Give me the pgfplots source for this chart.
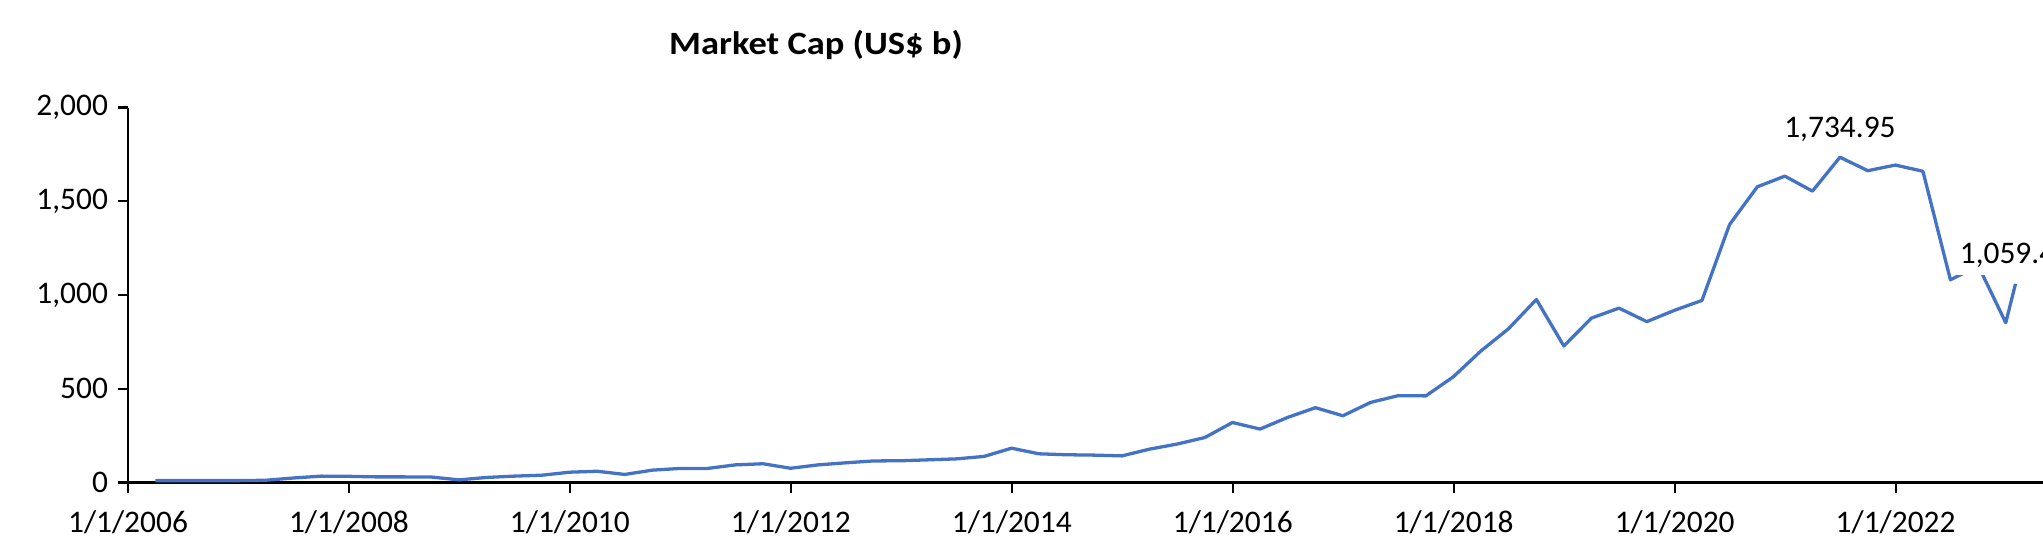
\documentclass[border=0pt]{standalone}
\usepackage{fontspec}
\setmainfont{Carlito}
\newfontfamily\titlefont[FakeStretch=1.12]{Carlito}
\usepackage{pgfplots}
\pgfplotsset{compat=1.18}
\definecolor{xlblue}{HTML}{4472C4}

\pgfplotstableread{
date value
2006.247 10
2006.496 10
2006.748 10
2006.997 10
2007.247 12
2007.496 24
2007.748 34
2007.997 33
2008.247 30
2008.496 30
2008.748 29
2008.997 14
2009.247 27
2009.496 34
2009.748 39
2009.997 55
2010.247 60
2010.496 43
2010.748 66
2010.997 75
2011.247 75
2011.496 94
2011.748 100
2011.997 76
2012.247 94
2012.496 105
2012.748 115
2012.997 116
2013.247 121
2013.496 126
2013.748 139
2013.997 183
2014.247 153
2014.496 148
2014.748 146
2014.997 142
2015.247 178
2015.496 205
2015.748 240
2015.997 320
2016.247 285
2016.496 347
2016.748 399
2016.997 356
2017.247 427
2017.496 463
2017.748 462
2017.997 564
2018.247 702
2018.496 820
2018.748 976
2018.997 728
2019.247 877
2019.496 930
2019.748 858
2019.997 918
2020.247 971
2020.496 1375
2020.748 1577
2020.997 1634
2021.247 1554
2021.496 1734.95
2021.748 1663
2021.997 1693
2022.247 1660
2022.496 1081
2022.748 1156
2022.997 852
2023.085 1059.4
}\mcdata

\begin{document}
\begin{tikzpicture}
\begin{axis}[
  at={(44.8pt,21.875pt)}, anchor=south west,
  scale only axis, width=670.25pt, height=131.25pt,
  xmin=2006, xmax=2023.334, ymin=0, ymax=2000,
  axis x line*=bottom, axis y line*=left,
  axis line style={black, line width=0.75pt, -},
  tick align=outside, major tick length=3.5pt,
  tick style={black, line width=0.75pt},
  xtick={2006,2008,2010,2012,2014,2016,2018,2020,2022},
  xticklabels={1/1/2006,1/1/2008,1/1/2010,1/1/2012,1/1/2014,1/1/2016,1/1/2018,1/1/2020,1/1/2022},
  ytick={0,500,1000,1500,2000},
  yticklabels={0,500,{1,000},{1,500},{2,000}},
  ticklabel style={font=\fontsize{11}{13}\selectfont},
  xticklabel style={yshift=-2.8pt},
  minor tick num=0,
  clip=false,
]
\addplot[xlblue, line width=1.15pt, line join=round, mark=none] table[x=date, y=value] {\mcdata};
\node[anchor=base, yshift=7pt, inner sep=1pt, font=\fontsize{11}{13}\selectfont] at (axis cs:2021.496,1734.95) {1,734.95};
\node[anchor=base, yshift=7pt, inner sep=1pt, fill=white, text depth=0.3em, font=\fontsize{11}{13}\selectfont] at (axis cs:2023.085,1059.4) {1,059.40};
\end{axis}
\node[font=\titlefont\bfseries\fontsize{11.4}{13}\selectfont] at (285.6pt,175pt) {Market Cap (US\$ b)};
\pgfresetboundingbox
\useasboundingbox (0,0) rectangle (715.05pt,190.75pt);
\end{tikzpicture}
\end{document}
